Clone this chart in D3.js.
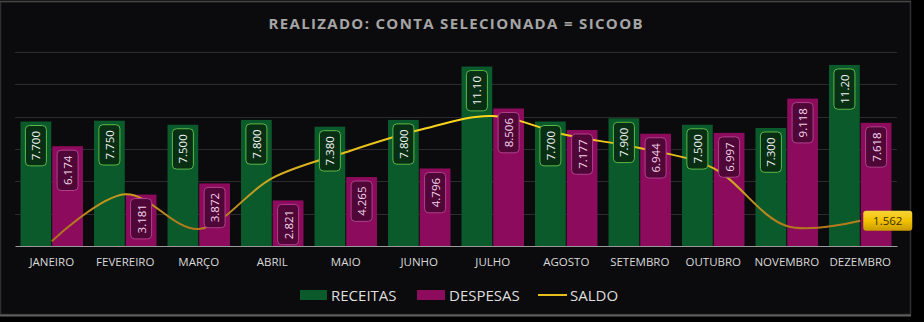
<!DOCTYPE html>
<html><head><meta charset="utf-8">
<script src="https://cdn.jsdelivr.net/npm/d3@7"></script>
<style>html,body{margin:0;padding:0;background:#000;}svg{display:block;}</style>
</head><body>
<svg id="c" width="924" height="322"></svg>
<script>
const title = "REALIZADO: CONTA SELECIONADA = SICOOB";
const months = ["JANEIRO","FEVEREIRO","MARÇO","ABRIL","MAIO","JUNHO","JULHO","AGOSTO","SETEMBRO","OUTUBRO","NOVEMBRO","DEZEMBRO"];
const receitas = [7.700,7.750,7.500,7.800,7.380,7.800,11.100,7.700,7.900,7.500,7.300,11.200];
const receitasLabels = ["7.700","7.750","7.500","7.800","7.380","7.800","11.10","7.700","7.900","7.500","7.300","11.20"];
const despesas = [6.174,3.181,3.872,2.821,4.265,4.796,8.506,7.177,6.944,6.997,9.118,7.618];
const despesasLabels = ["6.174","3.181","3.872","2.821","4.265","4.796","8.506","7.177","6.944","6.997","9.118","7.618"];
const saldo = [0.30,3.20,1.05,4.20,5.80,7.17,8.04,6.86,6.06,4.82,1.24,1.562];
const saldoLastLabel = "1.562";
const yTicks = [0,2,4,6,8,10,12];
const seriesNames = ["RECEITAS","DESPESAS","SALDO"];

const colors = {rec:"#0a5a2b", desp:"#8c0b5d", recBox:"#082e14", recStroke:"#5cb848", despBox:"#4e0737", despStroke:"#b0408a"};

const svg = d3.select("#c");
const defs = svg.append("defs");

// panel
svg.append("rect").attr("x",0).attr("y",0).attr("width",924).attr("height",322).attr("fill","#000");
svg.append("rect").attr("x",0.5).attr("y",1.5).attr("width",910).attr("height",313)
  .attr("fill","#0b0b0d").attr("stroke","#2e2e30").attr("stroke-width",1.5);
svg.append("line").attr("x1",0).attr("x2",911).attr("y1",315.5).attr("y2",315.5).attr("stroke","#5e5e5e").attr("stroke-width",2);
svg.append("line").attr("x1",0).attr("x2",911).attr("y1",1.5).attr("y2",1.5).attr("stroke","#444").attr("stroke-width",1.5);

const x = d3.scaleBand().domain(months).range([15,897]).paddingInner(0.15).paddingOuter(0.075);
const x1 = d3.scaleBand().domain(["r","d"]).range([0,x.bandwidth()]).paddingInner(0.03);
const y = d3.scaleLinear().domain([0,12]).range([246,52]);

// title
svg.append("text").attr("x",455.5).attr("y",29).attr("text-anchor","middle")
  .attr("font-family","'Open Sans'").attr("font-weight","bold").attr("font-size",15)
  .attr("fill","#a5a5a5").attr("textLength",374).attr("lengthAdjust","spacing").text(title);

// grid
const grid = svg.append("g");
grid.selectAll("line").data(yTicks.filter(d=>d>0)).join("line")
  .attr("x1",15).attr("x2",897).attr("y1",d=>Math.round(y(d))+0.5).attr("y2",d=>Math.round(y(d))+0.5)
  .attr("stroke","#2c2c2e").attr("stroke-width",1);

// bars
const g = svg.append("g");
months.forEach((m,i)=>{
  g.append("rect").attr("x",x(m)+x1("r")).attr("y",y(receitas[i])).attr("width",x1.bandwidth())
    .attr("height",y(0)-y(receitas[i])).attr("fill",colors.rec);
  g.append("rect").attr("x",x(m)+x1("d")).attr("y",y(despesas[i])).attr("width",x1.bandwidth())
    .attr("height",y(0)-y(despesas[i])).attr("fill",colors.desp);
});

// axis
const xAxis = svg.append("g").attr("transform",`translate(0,${y(0)})`).call(d3.axisBottom(x).tickSize(0).tickPadding(12));
xAxis.select(".domain").attr("stroke","#9a9a9a").attr("stroke-width",1.2);
xAxis.selectAll("text").attr("font-family","'Open Sans'").attr("font-size",11.5).attr("fill","#d9d9d9");

// saldo line gradient
const lg = defs.append("linearGradient").attr("id","lineGrad").attr("gradientUnits","userSpaceOnUse")
  .attr("x1",0).attr("x2",0).attr("y1",y(0)).attr("y2",y(8));
lg.append("stop").attr("offset","0%").attr("stop-color","#a8641c");
lg.append("stop").attr("offset","45%").attr("stop-color","#c9a21e");
lg.append("stop").attr("offset","100%").attr("stop-color","#ffd81c");

const line = d3.line().x((d,i)=>x(months[i])+x.bandwidth()/2).y(d=>y(d)).curve(d3.curveCatmullRom.alpha(0.5));
svg.append("path").attr("d",line(saldo)).attr("fill","none").attr("stroke","url(#lineGrad)").attr("stroke-width",2);

// labels
function labelBox(cx, topY, txt, fill, stroke, tcol){
  const gg = svg.append("g");
  const t = gg.append("text").attr("font-family","'Open Sans'").attr("font-size",11.5).attr("fill",tcol)
    .attr("text-anchor","middle").attr("dominant-baseline","central").text(txt);
  const w = t.node().getComputedTextLength();
  const len = w + 11, thick = 21;
  const cy = topY + 4 + len/2;
  gg.insert("rect","text").attr("x",-len/2).attr("y",-thick/2).attr("width",len).attr("height",thick)
    .attr("rx",4).attr("fill",fill).attr("stroke",stroke).attr("stroke-width",1);
  gg.attr("transform",`translate(${cx},${cy}) rotate(-90)`);
}
months.forEach((m,i)=>{
  labelBox(x(m)+x1("r")+x1.bandwidth()/2, y(receitas[i]), receitasLabels[i], colors.recBox, colors.recStroke, "#f2f2f2");
  labelBox(x(m)+x1("d")+x1.bandwidth()/2, y(despesas[i]), despesasLabels[i], colors.despBox, colors.despStroke, "#f5d3ea");
});

// last saldo label
const yg = defs.append("linearGradient").attr("id","yelGrad").attr("x1",0).attr("x2",0).attr("y1",0).attr("y2",1);
yg.append("stop").attr("offset","0%").attr("stop-color","#f7d43a");
yg.append("stop").attr("offset","50%").attr("stop-color","#f2c200");
yg.append("stop").attr("offset","100%").attr("stop-color","#c99a00");
const lx = x(months[11])+x.bandwidth()/2, ly = y(saldo[11]);
svg.append("rect").attr("x",lx+3).attr("y",ly-10).attr("width",49).attr("height",20).attr("rx",3)
  .attr("fill","url(#yelGrad)");
svg.append("text").attr("x",lx+27.5).attr("y",ly).attr("text-anchor","middle").attr("dominant-baseline","central")
  .attr("font-family","'Open Sans'").attr("font-size",11.5).attr("fill","#3a3000").text(saldoLastLabel);

// legend
const leg = svg.append("g").attr("font-family","'Open Sans'").attr("font-size",15).attr("fill","#dedede");
leg.append("rect").attr("x",300).attr("y",290).attr("width",27).attr("height",10).attr("fill",colors.rec);
leg.append("text").attr("x",331).attr("y",301).text(seriesNames[0]);
leg.append("rect").attr("x",417).attr("y",290).attr("width",28).attr("height",10).attr("fill",colors.desp);
leg.append("text").attr("x",449).attr("y",301).text(seriesNames[1]);
leg.append("line").attr("x1",538).attr("x2",567).attr("y1",295).attr("y2",295).attr("stroke","#e6bf1a").attr("stroke-width",2);
leg.append("text").attr("x",570).attr("y",301).text(seriesNames[2]);
</script>
</body></html>
